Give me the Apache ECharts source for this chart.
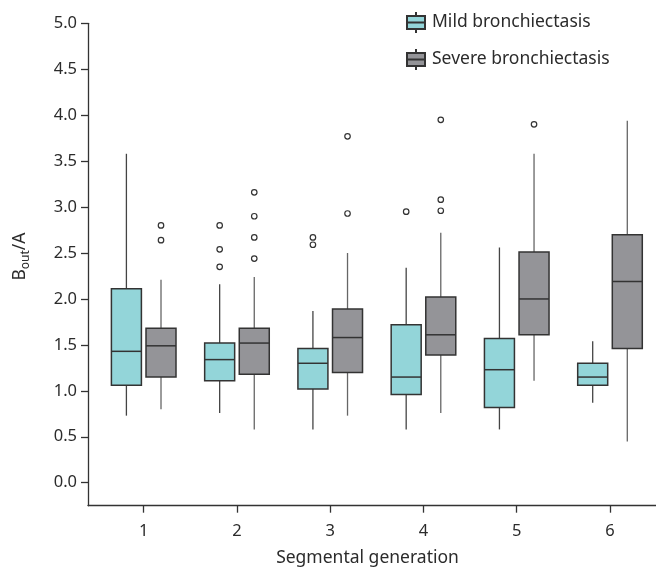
<!DOCTYPE html>
<html><head><meta charset="utf-8">
<script src="https://cdn.jsdelivr.net/npm/echarts@6/dist/echarts.min.js"></script>
<style>html,body{margin:0;padding:0;background:#fff}#c{width:656px;height:567px}</style>
</head><body><div id="c"></div>
<script>
// ---- data ----
const generations = [1, 2, 3, 4, 5, 6];
const seriesNames = ['Mild bronchiectasis', 'Severe bronchiectasis'];
// [min, Q1, median, Q3, max]
const mildBox = [
  [0.73, 1.06, 1.43, 2.11, 3.58],
  [0.76, 1.11, 1.34, 1.52, 2.16],
  [0.58, 1.02, 1.30, 1.46, 1.87],
  [0.58, 0.96, 1.15, 1.72, 2.34],
  [0.58, 0.82, 1.23, 1.57, 2.56],
  [0.87, 1.06, 1.15, 1.30, 1.54]
];
const severeBox = [
  [0.80, 1.15, 1.49, 1.68, 2.21],
  [0.58, 1.18, 1.52, 1.68, 2.24],
  [0.73, 1.20, 1.58, 1.89, 2.50],
  [0.76, 1.39, 1.61, 2.02, 2.72],
  [1.11, 1.61, 2.00, 2.51, 3.58],
  [0.45, 1.46, 2.19, 2.70, 3.94]
];
// [generation, value]
const mildOutliers = [[2, 2.80], [2, 2.54], [2, 2.35], [3, 2.67], [3, 2.59], [4, 2.95]];
const severeOutliers = [[1, 2.80], [1, 2.64], [2, 3.16], [2, 2.90], [2, 2.67], [2, 2.44],
  [3, 3.77], [3, 2.93], [4, 3.95], [4, 3.08], [4, 2.96], [5, 3.90]];
const yTicks = [0, 0.5, 1, 1.5, 2, 2.5, 3, 3.5, 4, 4.5, 5];

// ---- style ----
const FONT = 'Noto Sans';
const TEXT = '#2b2b2b';
const AXIS = '#333';
const MILD = '#93d5d9', SEVERE = '#949498';
const BOX_W = 30, OFFSET = 17.3;
const ICON = 'path://M0,4H18V17H0Z M0,10.5H18 M9,0V4 M9,17V21';

function boxRender(offset, whiskerColor) {
  return function (params, api) {
    const x = api.coord([api.value(0), 0])[0] + offset;
    const y = v => api.coord([api.value(0), v])[1];
    const yMin = y(api.value(1)), yQ1 = y(api.value(2)), yMed = y(api.value(3)),
          yQ3 = y(api.value(4)), yMax = y(api.value(5));
    const st = api.style();
    return {
      type: 'group', children: [
        { type: 'line', shape: { x1: x, y1: yMax, x2: x, y2: yQ3 }, style: { stroke: whiskerColor, lineWidth: 1.3 } },
        { type: 'line', shape: { x1: x, y1: yQ1, x2: x, y2: yMin }, style: { stroke: whiskerColor, lineWidth: 1.3 } },
        { type: 'rect', shape: { x: x - BOX_W / 2, y: yQ3, width: BOX_W, height: yQ1 - yQ3 }, style: { fill: st.fill, stroke: '#333', lineWidth: 1.5 } },
        { type: 'line', shape: { x1: x - BOX_W / 2, y1: yMed, x2: x + BOX_W / 2, y2: yMed }, style: { stroke: '#333', lineWidth: 1.5 } }
      ]
    };
  };
}

const chart = echarts.init(document.getElementById('c'), null, { renderer: 'canvas' });
chart.setOption({
  animation: false,
  backgroundColor: '#fff',
  textStyle: { fontFamily: FONT },
  legend: {
    orient: 'vertical', left: 401, top: 6,
    itemWidth: 18, itemHeight: 21, itemGap: 14,
    textStyle: { fontFamily: FONT, fontSize: 17.5, color: TEXT, padding: [0, 0, 0, 2] },
    data: seriesNames.map(n => ({ name: n, icon: ICON }))
  },
  grid: { left: 88, right: 0, top: 23.3, bottom: 61.3, outerBoundsMode: 'none', containLabel: false },
  xAxis: {
    type: 'value', min: 0.4027, max: 6.4933,
    name: 'Segmental generation', nameLocation: 'middle', nameGap: 43,
    nameTextStyle: { fontFamily: FONT, fontSize: 17.5, color: TEXT, padding: [0, 9, 0, 0] },
    axisLine: { show: true, onZero: false, lineStyle: { color: AXIS, width: 1.3 } },
    axisTick: { show: true, length: 7, customValues: generations, lineStyle: { color: AXIS, width: 1.3 } },
    axisLabel: { customValues: generations, fontFamily: FONT, fontSize: 16.5, color: TEXT, margin: 17, formatter: v => String(v) },
    splitLine: { show: false }
  },
  yAxis: {
    type: 'value', min: -0.25, max: 5,
    name: '{b|B}{s|out}{b|/A}', nameLocation: 'middle', nameGap: 56, nameRotate: 90,
    nameTextStyle: {
      padding: [0, 0, 0, 16],
      rich: {
        b: { fontFamily: FONT, fontSize: 17.5, color: TEXT, lineHeight: 24 },
        s: { fontFamily: FONT, fontSize: 12, color: TEXT, lineHeight: 13, verticalAlign: 'bottom' }
      }
    },
    axisLine: { show: true, lineStyle: { color: AXIS, width: 1.3 } },
    axisTick: { show: true, length: 7, customValues: yTicks, lineStyle: { color: AXIS, width: 1.3 } },
    axisLabel: { customValues: yTicks, fontFamily: FONT, fontSize: 16.5, color: TEXT, margin: 11, formatter: v => v.toFixed(1) },
    splitLine: { show: false }
  },
  series: [
    {
      name: seriesNames[0], type: 'custom',
      itemStyle: { color: MILD, borderColor: '#333', borderWidth: 1.5 },
      renderItem: boxRender(-OFFSET, '#444'),
      encode: { x: 0, y: [1, 2, 3, 4, 5] },
      data: mildBox.map((d, i) => [generations[i]].concat(d)),
      z: 2
    },
    {
      name: seriesNames[1], type: 'custom',
      itemStyle: { color: SEVERE, borderColor: '#333', borderWidth: 1.5 },
      renderItem: boxRender(OFFSET, '#666'),
      encode: { x: 0, y: [1, 2, 3, 4, 5] },
      data: severeBox.map((d, i) => [generations[i]].concat(d)),
      z: 2
    },
    {
      name: 'mildOut', type: 'scatter', symbol: 'circle', symbolSize: 5.5,
      symbolOffset: [-OFFSET, 0],
      itemStyle: { color: '#fff', borderColor: '#333', borderWidth: 1.2, opacity: 1 },
      data: mildOutliers, z: 3
    },
    {
      name: 'severeOut', type: 'scatter', symbol: 'circle', symbolSize: 5.5,
      symbolOffset: [OFFSET, 0],
      itemStyle: { color: '#fff', borderColor: '#333', borderWidth: 1.2, opacity: 1 },
      data: severeOutliers, z: 3
    }
  ]
});
</script></body></html>
